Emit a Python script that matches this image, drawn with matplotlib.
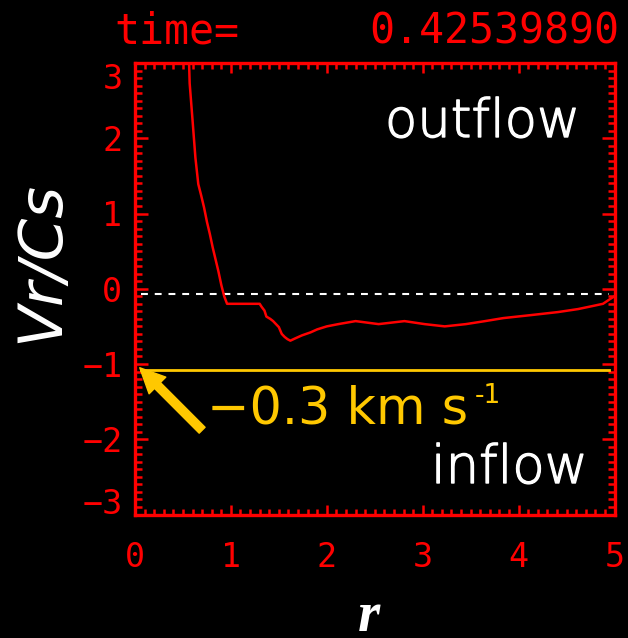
import matplotlib
matplotlib.use("Agg")
import matplotlib.pyplot as plt
import matplotlib.patheffects as pe
from matplotlib.ticker import MultipleLocator
from matplotlib.patches import FancyArrowPatch

# ---- data ----
r_vals = [0.55, 0.57, 0.60, 0.63, 0.66, 0.69, 0.72, 0.75, 0.78, 0.81, 0.84,
          0.87, 0.90, 0.93, 0.96, 1.30, 1.32, 1.35, 1.37, 1.41, 1.44, 1.47,
          1.50, 1.53, 1.56, 1.59, 1.62, 1.67, 1.74, 1.83, 1.90, 2.00, 2.12,
          2.30, 2.54, 2.81, 3.02, 3.23, 3.45, 3.65, 3.84, 4.13, 4.41, 4.62,
          4.77, 4.88, 4.95, 5.00]
vr_cs = [3.60, 2.73, 2.24, 1.74, 1.39, 1.24, 1.08, 0.89, 0.73, 0.55, 0.39,
         0.23, 0.05, -0.10, -0.20, -0.20, -0.24, -0.29, -0.37, -0.40, -0.43,
         -0.47, -0.51, -0.60, -0.64, -0.67, -0.69, -0.66, -0.62, -0.58, -0.54,
         -0.50, -0.47, -0.43, -0.47, -0.43, -0.47, -0.50, -0.47, -0.43, -0.39,
         -0.35, -0.31, -0.27, -0.23, -0.20, -0.14, -0.10]
ref_x = [0.06, 4.94]          # extent of the horizontal reference lines
zero_level = [-0.07, -0.07]   # dashed white line
inflow_level = [-1.08, -1.08] # yellow line (-0.3 km/s)
arrow_tip = (0.05, -1.05)
arrow_tail = (0.70, -1.88)
x_ticks = [0, 1, 2, 3, 4, 5]
y_ticks = [-3, -2, -1, 0, 1, 2, 3]
x_ticklabels = ["0", "1", "2", "3", "4", "5"]
y_ticklabels = ["\u22123", "\u22122", "\u22121", "0", "1", "2", "3"]
time_label = "time="
time_value = "0.42539890"

RED = "#FF0000"
YELLOW = "#FFC800"
W, H = 628, 638

fig = plt.figure(figsize=(W / 100, H / 100), dpi=100, facecolor="black")
ax = fig.add_axes([135 / W, 1 - 514.5 / H, 479.5 / W, 451.5 / H], facecolor="black")

def px(x, y):
    return x / W, 1 - y / H

ax.plot(r_vals, vr_cs, color=RED, lw=1.8, zorder=3)
ax.plot(ref_x, zero_level, color="white", lw=1.5, dashes=(3.3, 3.3), zorder=2)
ax.plot(ref_x, inflow_level, color=YELLOW, lw=2.0, zorder=2)

arrow = FancyArrowPatch(arrow_tail, arrow_tip,
                        arrowstyle="simple,head_length=0.9,head_width=0.85,tail_width=0.3",
                        mutation_scale=20, color=YELLOW, shrinkA=0, shrinkB=0, zorder=4)
ax.add_patch(arrow)

ax.set_xlim(0, 5)
ax.set_ylim(-3, 3)
ax.set_xticks(x_ticks)
ax.set_xticklabels(x_ticklabels)
ax.set_yticks(y_ticks)
ax.set_yticklabels(y_ticklabels)
ax.xaxis.set_minor_locator(MultipleLocator(0.1))
ax.yaxis.set_minor_locator(MultipleLocator(0.1))

for s in ax.spines.values():
    s.set_color(RED)
    s.set_linewidth(2.4)

ax.tick_params(axis="both", which="both", direction="in", colors=RED,
               top=True, right=True, width=1.8)
ax.tick_params(axis="x", which="major", length=7.5, pad=19)
ax.tick_params(axis="y", which="major", length=9.5, pad=9)
ax.tick_params(axis="x", which="minor", length=4.5)
ax.tick_params(axis="y", which="minor", length=5)
for lbl in ax.get_xticklabels() + ax.get_yticklabels():
    lbl.set_fontfamily("DejaVu Sans Mono")
    lbl.set_fontsize(24)
    lbl.set_color(RED)
ylbls = ax.get_yticklabels()
ylbls[-1].set_verticalalignment("top")
ylbls[0].set_verticalalignment("baseline")

# title text
fig.text(*px(114, 43), time_label, color=RED, family="DejaVu Sans Mono",
         fontsize=30, ha="left", va="baseline")
fig.text(*px(369, 43), time_value, color=RED, family="DejaVu Sans Mono",
         fontsize=30, ha="left", va="baseline")

# axis labels
fig.text(*px(42, 262), "Vr/Cs", color="white", family="DejaVu Sans",
         style="oblique", fontsize=44, rotation=90, ha="center", va="center")
fig.text(*px(369, 631), "r", color="white", family="Liberation Serif",
         style="italic", weight="bold", fontsize=41, ha="center", va="baseline")

# annotations
thick_white = [pe.withStroke(linewidth=1.0, foreground="white")]
fig.text(*px(385, 137), "outflow", color="white", family="DejaVu Sans",
         weight="light", fontsize=38, ha="left", va="baseline",
         path_effects=thick_white)
fig.text(*px(431, 483), "inflow", color="white", family="DejaVu Sans",
         weight="light", fontsize=38, ha="left", va="baseline",
         path_effects=thick_white)
fig.text(*px(207, 423), "\u22120.3 km s", color=YELLOW,
         family="DejaVu Sans", fontsize=36.5, ha="left", va="baseline")
fig.text(*px(475, 403), "-1", color=YELLOW,
         family="DejaVu Sans", fontsize=19, ha="left", va="baseline")

fig.savefig("out.png", dpi=100, facecolor="black")
